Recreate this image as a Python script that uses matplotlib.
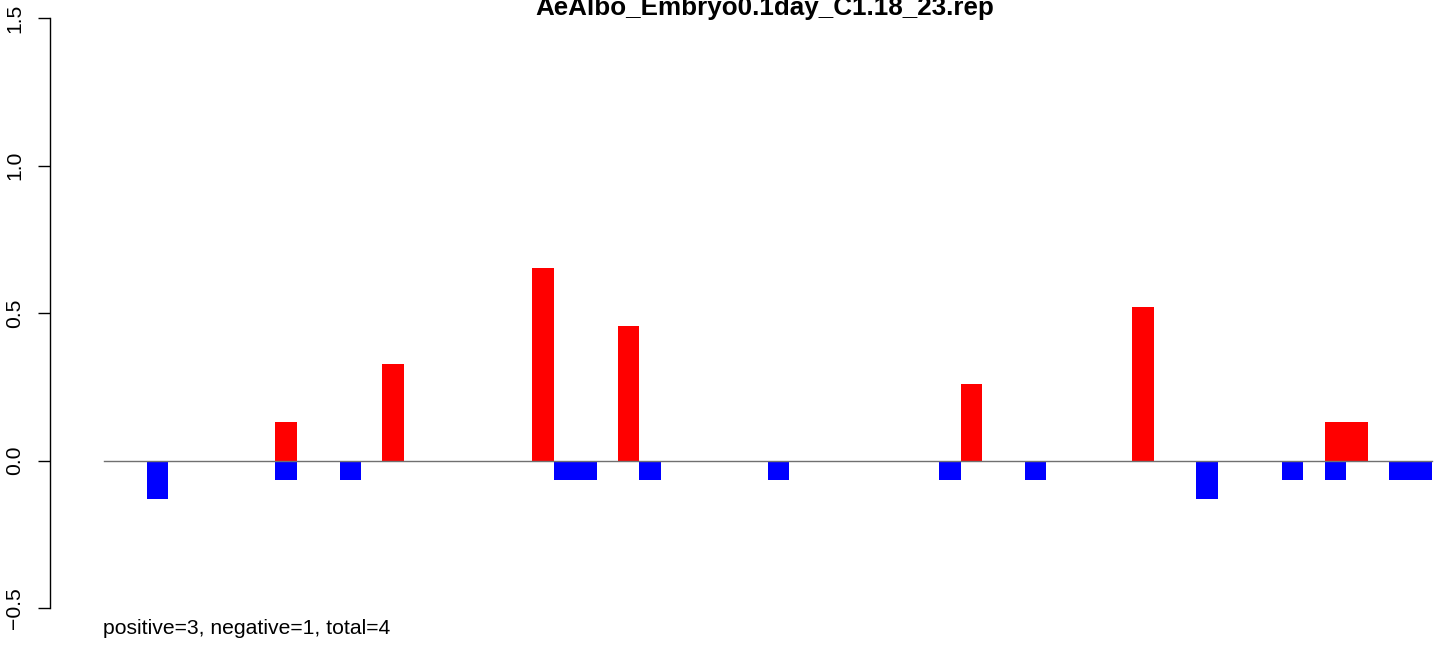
import matplotlib
matplotlib.use("Agg")
import matplotlib.pyplot as plt

W, H, DPI = 1436, 645, 100
plt.rcParams['font.family'] = ['Liberation Sans', 'DejaVu Sans']

title = "AeAlbo_Embryo0.1day_C1.18_23.rep"
footer = "positive=3, negative=1, total=4"
n_positions = 62

pos_index = [8, 13, 20, 24, 40, 48, 57, 58]
pos_values = [0.13, 0.326, 0.652, 0.456, 0.261, 0.522, 0.13, 0.13]

neg_index = [2, 8, 11, 21, 22, 25, 31, 39, 43, 51, 55, 57, 60, 61]
neg_values = [-0.13, -0.065, -0.065, -0.065, -0.065, -0.065, -0.065,
              -0.065, -0.065, -0.13, -0.065, -0.065, -0.065, -0.065]

y_ticks = [-0.5, 0.0, 0.5, 1.0, 1.5]
y_ticklabels = ["\u22120.5", "0.0", "0.5", "1.0", "1.5"]

fig = plt.figure(figsize=(W / DPI, H / DPI), dpi=DPI)

# pixel geometry of the plot area
ax_left_px, ax_right_px = 50, 1436
y_top_px, y_bot_px = 18, 608
x0_px, x1_px = 104, 1432
unit = (x1_px - x0_px) / n_positions
ax = fig.add_axes([ax_left_px / W, (H - y_bot_px) / H,
                   (ax_right_px - ax_left_px) / W, (y_bot_px - y_top_px) / H])
ax.set_xlim(-(x0_px - ax_left_px) / unit, n_positions + (ax_right_px - x1_px) / unit)
ax.set_ylim(-0.5, 1.5)

ax.bar(pos_index, pos_values, width=1.0, align='edge', color='#FF0000', linewidth=0, zorder=2)
ax.bar(neg_index, neg_values, width=1.0, align='edge', color='#0000FF', linewidth=0, zorder=2)
ax.plot([0, n_positions], [0, 0], color='#707070', lw=1.0, zorder=3)

for s in ['top', 'right', 'bottom']:
    ax.spines[s].set_visible(False)
ax.spines['left'].set_linewidth(1.0)
ax.spines['left'].set_color('black')
ax.set_xticks([])
ax.set_yticks(y_ticks)
ax.set_yticklabels(y_ticklabels, rotation=90, va='center', fontsize=15.2)
ax.tick_params(axis='y', length=8.6, width=1.0, pad=10, colors='black')

fig.text(764.5 / W, 1 - 15 / H, title, ha='center', va='baseline',
         fontsize=18.7, fontweight='bold')
fig.text(103 / W, 1 - 634 / H, footer, ha='left', va='baseline', fontsize=15.2)

fig.savefig("out.png", dpi=DPI)
